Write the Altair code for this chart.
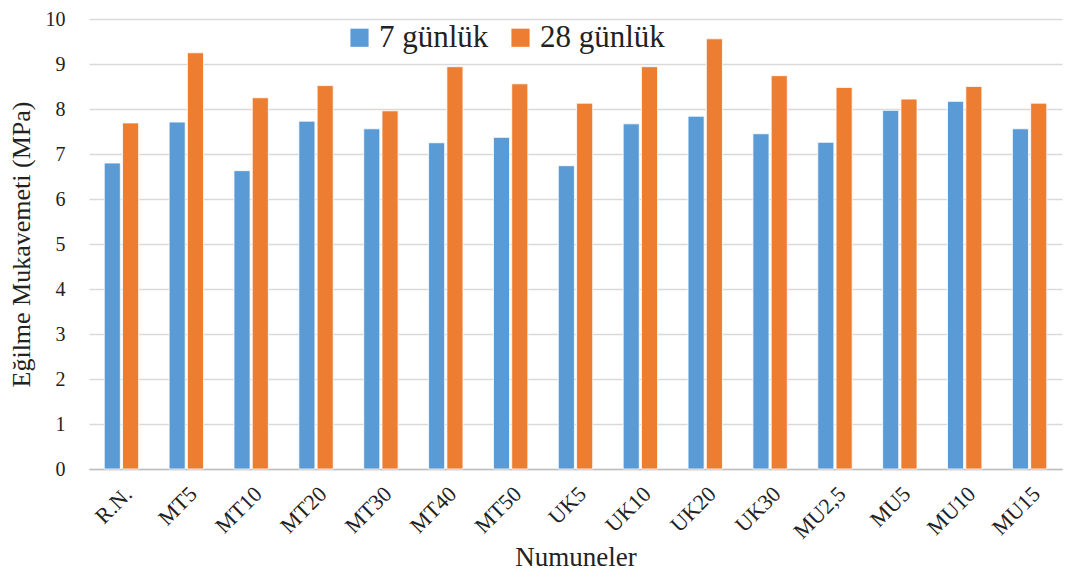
import altair as alt
import pandas as pd

samples = ["R.N.", "MT5", "MT10", "MT20", "MT30", "MT40", "MT50", "UK5", "UK10",
           "UK20", "UK30", "MU2,5", "MU5", "MU10", "MU15"]
day7 = [6.80, 7.71, 6.63, 7.73, 7.56, 7.25, 7.37, 6.74, 7.67, 7.84, 7.45, 7.26, 7.97, 8.17, 7.56]
day28 = [7.69, 9.25, 8.25, 8.52, 7.96, 8.94, 8.56, 8.13, 8.94, 9.56, 8.74, 8.48, 8.22, 8.50, 8.13]
series = ["7 günlük", "28 günlük"]
colors = ["#5B9BD5", "#ED7D31"]
y_ticks = list(range(0, 11))

rows = []
for s, a, b in zip(samples, day7, day28):
    rows.append({"Numune": s, "Seri": series[0], "Deger": a})
    rows.append({"Numune": s, "Seri": series[1], "Deger": b})
df = pd.DataFrame(rows)

FONT = "Liberation Serif"

chart = alt.Chart(df).mark_bar(stroke="white", strokeWidth=0.8).encode(
    x=alt.X("Numune:N", sort=samples, title="Numuneler",
            scale=alt.Scale(paddingInner=0.47, paddingOuter=0.235),
            axis=alt.Axis(labelAngle=-45, labelFontSize=22, labelFont=FONT,
                          labelColor="#222", labelPadding=14, ticks=False,
                          domainColor="#bfbfbf", domainWidth=1.5,
                          titleFont=FONT, titleFontSize=27, titleFontWeight="normal",
                          titleColor="#222", titlePadding=2)),
    xOffset=alt.XOffset("Seri:N", sort=series,
                        scale=alt.Scale(paddingInner=0.12, paddingOuter=0)),
    y=alt.Y("Deger:Q", title="Eğilme Mukavemeti (MPa)",
            scale=alt.Scale(domain=[0, 10], nice=False),
            axis=alt.Axis(values=y_ticks, labelFontSize=20, labelFont=FONT,
                          labelColor="#222", labelPadding=24, ticks=False, domain=False,
                          gridColor="#d9d9d9", gridWidth=1.5,
                          titleFont=FONT, titleFontSize=26, titleFontWeight="normal",
                          titleColor="#222", titlePadding=11)),
    color=alt.Color("Seri:N", sort=series,
                    scale=alt.Scale(domain=series, range=colors),
                    legend=alt.Legend(title=None, orient="none", legendX=255, legendY=3,
                                      direction="horizontal", symbolType="square",
                                      symbolSize=330, symbolStrokeWidth=0,
                                      labelFont=FONT, labelFontSize=31, labelColor="#222",
                                      columnPadding=16, labelOffset=4, fillColor="white")),
).properties(
    width=973, height=450,
    autosize=alt.AutoSizeParams(type="none"),
    padding={"left": 81, "top": 11, "right": 2, "bottom": 110},
).configure_view(stroke=None)

chart.save("out.html", embed_options={"renderer": "svg", "actions": False})
